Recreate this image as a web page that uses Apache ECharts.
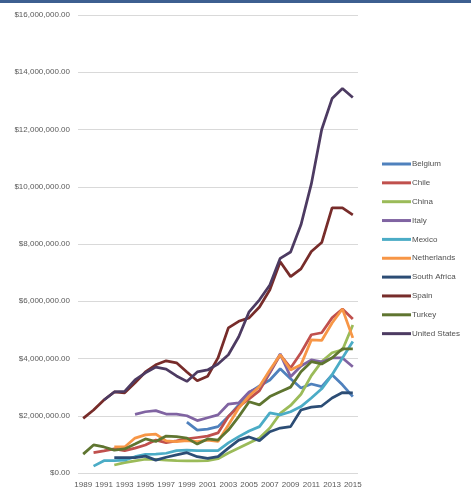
<!DOCTYPE html>
<html>
<head>
<meta charset="utf-8">
<script src="https://cdn.jsdelivr.net/npm/echarts@6/dist/echarts.min.js"></script>
<style>
  html, body { margin: 0; padding: 0; background: #fff; }
  #chart { width: 471px; height: 497px; }
</style>
</head>
<body>
<div id="chart"></div>
<script>
  const years = ['1989', '1990', '1991', '1992', '1993', '1994', '1995', '1996', '1997', '1998', '1999', '2000', '2001', '2002',
    '2003', '2004', '2005', '2006', '2007', '2008', '2009', '2010', '2011', '2012', '2013', '2014', '2015'];

  // values, null = no data that year
  const belgium = [null, null, null, null, null, null, null, null, null, null, 1780000, 1500000, 1530000, 1620000,
    1970000, 2380000, 2810000, 3040000, 3250000, 3640000, 3290000, 2970000, 3110000, 3020000, 3430000, 3080000, 2670000];
  const chile = [null, 710000, 770000, 840000, 780000, 870000, 980000, 1150000, 1060000, 1120000, 1190000, 1240000, 1290000, 1400000,
    1970000, 2320000, 2590000, 2880000, 3500000, 4130000, 3670000, 4200000, 4830000, 4900000, 5420000, 5730000, 5380000];
  const china = [null, null, null, 280000, 360000, 420000, 480000, 480000, 450000, 430000, 420000, 420000, 430000, 500000,
    700000, 870000, 1050000, 1220000, 1570000, 2080000, 2360000, 2750000, 3400000, 3890000, 4200000, 4300000, 5170000];
  const italy = [null, null, null, null, null, 2050000, 2140000, 2180000, 2060000, 2060000, 2000000, 1830000, 1930000, 2030000,
    2410000, 2450000, 2830000, 3000000, 3530000, 4160000, 3360000, 3740000, 3950000, 3880000, 4020000, 4020000, 3710000];
  const mexico = [null, 240000, 430000, 430000, 450000, 570000, 650000, 660000, 690000, 780000, 800000, 780000, 780000, 780000,
    1050000, 1270000, 1470000, 1620000, 2100000, 2030000, 2140000, 2320000, 2620000, 2940000, 3430000, 4020000, 4590000];
  const netherlands = [null, null, null, 910000, 910000, 1220000, 1330000, 1360000, 1120000, 1100000, 1130000, 1100000, 1150000, 1100000,
    1680000, 2270000, 2690000, 3020000, 3600000, 4130000, 3600000, 3780000, 4650000, 4630000, 5240000, 5730000, 4720000];
  const southAfrica = [null, null, null, 540000, 540000, 540000, 590000, 450000, 550000, 630000, 710000, 570000, 510000, 570000,
    870000, 1150000, 1260000, 1130000, 1440000, 1570000, 1620000, 2200000, 2300000, 2340000, 2620000, 2810000, 2800000];
  const spain = [1910000, 2200000, 2550000, 2830000, 2800000, 3150000, 3530000, 3780000, 3920000, 3850000, 3530000, 3220000, 3380000, 4020000,
    5070000, 5300000, 5420000, 5800000, 6400000, 7380000, 6860000, 7130000, 7740000, 8050000, 9260000, 9260000, 9020000];
  const turkey = [660000, 980000, 910000, 800000, 840000, 1010000, 1190000, 1100000, 1290000, 1270000, 1220000, 1010000, 1190000, 1150000,
    1500000, 1970000, 2490000, 2380000, 2670000, 2840000, 3000000, 3540000, 3890000, 3810000, 4020000, 4340000, 4340000];
  const unitedStates = [null, null, 2550000, 2830000, 2850000, 3250000, 3500000, 3700000, 3630000, 3390000, 3200000, 3530000, 3600000, 3810000,
    4130000, 4760000, 5630000, 6050000, 6570000, 7500000, 7720000, 8670000, 10100000, 12000000, 13080000, 13430000, 13120000];

  const countries = ['Belgium', 'Chile', 'China', 'Italy', 'Mexico', 'Netherlands', 'South Africa', 'Spain', 'Turkey', 'United States'];
  const values = [belgium, chile, china, italy, mexico, netherlands, southAfrica, spain, turkey, unitedStates];
  const colors = ['#4f81bd', '#c0504d', '#9bbb59', '#8064a2', '#4bacc6', '#f79646', '#2c4d75', '#772c2a', '#5f7530', '#4d3b62'];

  const labelFont = 'Liberation Sans, Arial, sans-serif';

  let myChart = echarts.init(document.getElementById('chart'));
  myChart.setOption({
    animation: false,
    color: colors,
    graphic: [{
      type: 'rect',
      left: 0,
      top: 0,
      shape: {width: 471, height: 3},
      style: {fill: '#3d5f90'}
    }],
    grid: {
      left: 78,
      right: 113,
      top: 15,
      bottom: 24
    },
    legend: {
      orient: 'vertical',
      left: 382,
      top: 159,
      padding: 0,
      icon: 'rect',
      itemWidth: 29,
      itemHeight: 3,
      itemGap: 8.85,
      data: countries,
      textStyle: {
        color: '#505050',
        fontSize: 8,
        fontFamily: labelFont,
        lineHeight: 10,
        padding: [0, 0, 0, -4]
      }
    },
    xAxis: {
      type: 'category',
      data: years,
      boundaryGap: true,
      axisLine: {show: false},
      axisTick: {show: false},
      axisLabel: {
        interval: 1,
        margin: 8,
        color: '#595959',
        fontSize: 8,
        fontFamily: labelFont
      }
    },
    yAxis: {
      type: 'value',
      min: 0,
      max: 16000000,
      interval: 2000000,
      axisLine: {show: false},
      axisTick: {show: false},
      splitLine: {
        lineStyle: {color: '#d9d9d9', width: 1}
      },
      axisLabel: {
        margin: 8,
        color: '#595959',
        fontSize: 8,
        fontFamily: labelFont,
        formatter: function (v) {
          return '$' + v.toLocaleString('en-US', {minimumFractionDigits: 2, maximumFractionDigits: 2});
        }
      }
    },
    series: countries.map(function (name, i) {
      return {
        name: name,
        type: 'line',
        data: values[i],
        symbol: 'none',
        lineStyle: {width: 2.75, color: colors[i]},
        itemStyle: {color: colors[i]}
      };
    })
  });
</script>
</body>
</html>
